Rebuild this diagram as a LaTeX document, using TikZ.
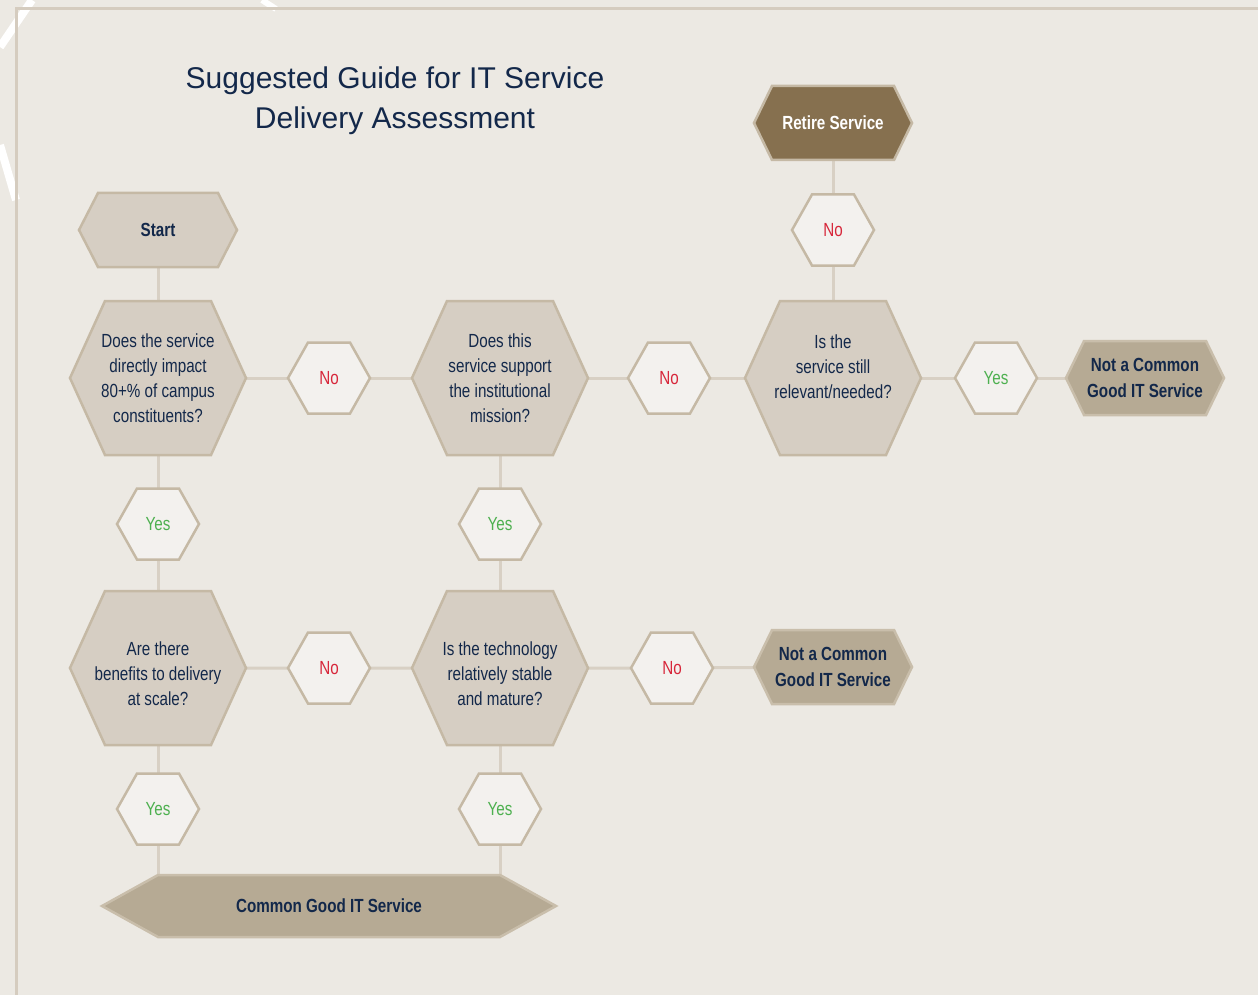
\documentclass[tikz,border=0pt]{standalone}
\usepackage{fontspec}
\setmainfont{Liberation Sans}
\newfontfamily\narrowfont[FakeStretch=0.8]{Liberation Sans}
\usepackage{tikz}

\pgfdeclarelayer{back}
\pgfdeclarelayer{hexes}
\pgfsetlayers{back,hexes,main}

\begin{document}
\begin{tikzpicture}
		[x=1pt,y=-1pt,line join=miter,
		%Styles
		every node/.style={inner sep=0pt,outer sep=0pt},
		question/.style={minimum width=176pt,minimum height=154pt,align=center,text=navy,font=\narrowfont\fontsize{19}{25}\selectfont},
		answer/.style={minimum width=82pt,minimum height=71pt,font=\narrowfont\fontsize{19}{23}\selectfont},
		nolabel/.style={answer,text=nored},
		yeslabel/.style={answer,text=yesgreen},
		endbox/.style={minimum width=158pt,minimum height=74pt,align=center,text=navy,font=\narrowfont\bfseries\fontsize{19}{26}\selectfont},
		link/.style={draw=linkcol,line width=3pt},
		pale/.style={fill=hexfill,draw=hexline,line width=2.5pt},
		light/.style={fill=smallfill,draw=hexline,line width=2.5pt},
		dark/.style={fill=retirefill,draw=hexline,line width=2.5pt},
		tan/.style={fill=tanfill,draw=tanline,line width=2.5pt}
		]
		
		%Colors
		\definecolor{pagebg}{RGB}{236,233,227}
		\definecolor{framecol}{RGB}{213,204,191}
		\definecolor{navy}{RGB}{19,40,74}
		\definecolor{nored}{RGB}{215,38,58}
		\definecolor{yesgreen}{RGB}{77,176,79}
		\definecolor{linkcol}{RGB}{216,208,196}
		\definecolor{hexfill}{RGB}{214,206,195}
		\definecolor{hexline}{RGB}{197,185,165}
		\definecolor{smallfill}{RGB}{243,241,238}
		\definecolor{retirefill}{RGB}{134,112,79}
		\definecolor{tanfill}{RGB}{182,170,148}
		\definecolor{tanline}{RGB}{201,190,171}
		
		\useasboundingbox (0,0) rectangle (1258,995);
		
		%The graphic
		\node[font=\fontsize{30}{40}\selectfont,text=navy,align=center] (title) at (395,101) {Suggested Guide for IT Service\\Delivery Assessment};
		
		\node[endbox] (start) at (158,230) {Start};
		\node[question] (q1) at (158,378) {Does the service\\directly impact\\80+\% of campus\\constituents?};
		\node[nolabel] (no1) at (329,378) {No};
		\node[question] (q2) at (500,378) {Does this\\service support\\the institutional\\mission?};
		\node[nolabel] (no2) at (669,378) {No};
		\node[question] (q3) at (833,378) {Is the\\service still\\relevant/needed?\\[-2.5pt]\mbox{}};
		\node[yeslabel] (yes1) at (996,378) {Yes};
		\node[endbox] (notcg1) at (1145,378) {Not a Common\\Good IT Service};
		\node[nolabel] (no3) at (833,230) {No};
		\node[endbox,text=white] (retire) at (833,123) {Retire Service};
		
		\node[yeslabel] (yes2) at (158,524) {Yes};
		\node[yeslabel] (yes3) at (500,524) {Yes};
		
		\node[question] (q4) at (158,668) {\mbox{}\\[1pt]Are there\\benefits to delivery\\at scale?};
		\node[nolabel] (no4) at (329,668) {No};
		\node[question] (q5) at (500,668) {\mbox{}\\[1pt]Is the technology\\relatively stable\\and mature?};
		\node[nolabel] (no5) at (672,668) {No};
		\node[endbox] (notcg2) at (833,667) {Not a Common\\Good IT Service};
		
		\node[yeslabel] (yes4) at (158,809) {Yes};
		\node[yeslabel] (yes5) at (500,809) {Yes};
		\node[endbox,minimum width=454pt,minimum height=62pt] (common) at (329,906) {Common Good IT Service};
		
		%Hexagons
		\begin{pgfonlayer}{hexes}
			\foreach \n/\d/\s in {start/19/pale,q1/35/pale,q2/35/pale,q3/35/pale,q4/35/pale,q5/35/pale,
				no1/20/light,no2/20/light,no3/20/light,no4/20/light,no5/20/light,
				yes1/20/light,yes2/20/light,yes3/20/light,yes4/20/light,yes5/20/light,
				retire/18/dark,notcg1/18/tan,notcg2/18/tan,common/56/tan}
			\filldraw[\s] (\n.west) -- ([xshift=\d pt]\n.north west) -- ([xshift=-\d pt]\n.north east)
				-- (\n.east) -- ([xshift=-\d pt]\n.south east) -- ([xshift=\d pt]\n.south west) -- cycle;
		\end{pgfonlayer}
		
		%Page and connectors
		\begin{pgfonlayer}{back}
			\fill[pagebg] (0,0) rectangle (1258,995);
			\draw[white,line width=8pt] (0,47) -- (32,0);
			\draw[white,line width=8pt] (0,145) -- (16,200);
			\draw[white,line width=6pt] (262,0) -- (276,9);
			\draw[framecol,line width=3pt] (16,995) -- (16,9) -- (1258,9);
			
			\draw[link] (start) -- (q1) -- (yes2) -- (q4) -- (yes4) -- (yes4 |- common.north);
			\draw[link] (q2) -- (yes3) -- (q5) -- (yes5) -- (yes5 |- common.north);
			\draw[link] (q1) -- (no1) -- (q2) -- (no2) -- (q3) -- (yes1) -- (notcg1);
			\draw[link] (q3) -- (no3) -- (retire);
			\draw[link] (q4) -- (no4) -- (q5) -- (no5) -- (notcg2);
		\end{pgfonlayer}
	\end{tikzpicture}
\end{document}
